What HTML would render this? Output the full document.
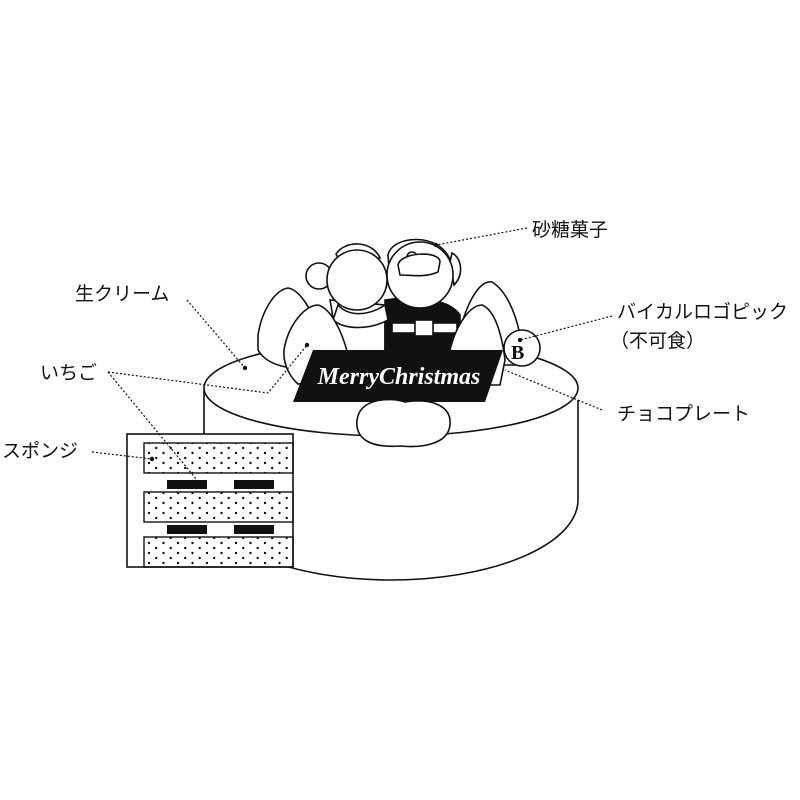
<!DOCTYPE html>
<html><head><meta charset="utf-8"><style>
html,body{margin:0;padding:0;background:#fff}
svg{display:block}
.t{font-family:"Liberation Sans","Noto Sans CJK JP",sans-serif;font-size:19px;fill:#111}
</style></head><body>
<svg width="800" height="800" viewBox="0 0 800 800" xmlns="http://www.w3.org/2000/svg">
<defs>
<pattern id="dots" width="14.5" height="10" patternUnits="userSpaceOnUse">
<circle cx="4" cy="3" r="1.2" fill="#111"/>
<circle cx="11.2" cy="8" r="1.2" fill="#111"/>
</pattern>
</defs>
<g fill="#fff" stroke="#111" stroke-width="1.6">
<!-- cake body -->
<path d="M204 390 L204 500 A187 80 0 0 0 578 500 L578 400"/>
<ellipse cx="391" cy="388" rx="187" ry="48"/>
<!-- back cream mounds -->
<path d="M258 335 C262 310 275 290 288 288 C300 290 312 310 318 330 L320 365 C300 372 268 368 258 350 Z"/>
<path d="M460 330 C468 300 480 280 492 282 C505 290 515 310 520 335 L515 365 L470 365 Z"/>
<!-- snowman -->
<path d="M330 300 C336 330 334 350 338 360 L385 360 L385 305 Z"/>
<circle cx="319" cy="276" r="13"/>
<path d="M336 254 C345 240 372 240 380 258 L340 262 Z"/>
<!-- santa -->
<path d="M452 253 C462 258 464 275 454 285 L450 262 Z"/>
<path d="M385 300 L385 360 L460 360 L460 315 C450 300 420 295 385 300 Z" fill="#111"/>
<rect x="392" y="323" width="65" height="10" fill="#fff"/>
<rect x="415" y="320" width="18" height="16" fill="#fff"/>
<path d="M388 255 C392 235 440 232 450 260 L448 282 L390 282 Z"/>
<circle cx="420" cy="275" r="33"/>
<circle cx="412" cy="257" r="5"/>
<path d="M398 265 C400 252 440 250 440 262 L438 272 C425 278 410 275 400 275 Z"/>
<circle cx="357" cy="280" r="30"/>
<path d="M338 305 C350 318 370 315 385 305 L388 320 C370 330 345 330 333 320 Z"/>
<!-- front cream mounds -->
<path d="M284 350 C288 325 305 305 318 305 C330 308 342 330 348 355 L346 380 L298 384 C288 375 283 362 284 350 Z"/>
<path d="M450 350 C456 325 470 305 482 305 C495 310 502 335 505 360 L500 385 L458 385 Z"/>
<!-- ball -->
<circle cx="522" cy="348" r="18"/>
</g>
<text x="511" y="359" font-family="Liberation Serif,serif" font-weight="bold" font-size="20" fill="#111">B</text>
<!-- plate -->
<polygon points="313,350 503,350 485,402 293,402" fill="#111"/>
<text x="399" y="384" text-anchor="middle" font-family="Liberation Serif,serif" font-style="italic" font-weight="bold" font-size="24" fill="#fff">MerryChristmas</text>
<!-- front blob -->
<path d="M357 420 C360 398 390 397 405 402 C430 398 452 405 450 425 C448 445 420 448 400 446 C372 448 355 440 357 420 Z" fill="#fff" stroke="#111" stroke-width="1.6"/>
<!-- cross section -->
<rect x="127" y="434" width="166" height="133" fill="#fff" stroke="#111" stroke-width="1.6"/>
<g stroke="#111" stroke-width="1.4">
<rect x="144" y="443" width="149" height="30" fill="url(#dots)"/>
<rect x="144" y="492" width="149" height="30" fill="url(#dots)"/>
<rect x="144" y="537" width="149" height="30" fill="url(#dots)"/>
</g>
<g fill="#111">
<rect x="167" y="480" width="40" height="9"/><rect x="234" y="480" width="40" height="9"/>
<rect x="167" y="525" width="40" height="9"/><rect x="234" y="525" width="40" height="9"/>
</g>
<!-- leaders -->
<g fill="none" stroke="#111" stroke-width="1.2" stroke-dasharray="2 2">
<path d="M527 228 L436 245"/>
<path d="M187 300 L245 368"/>
<path d="M108 372 L268 393 L307 345"/>
<path d="M108 372 L197 480"/>
<path d="M92 452 L152 459"/>
<path d="M612 316 L520 340"/>
<path d="M602 410 L505 370"/>
</g>
<g fill="#111">
<circle cx="436" cy="245" r="2.2"/><circle cx="245" cy="368" r="2.2"/><circle cx="307" cy="345" r="2.2"/>
<circle cx="152" cy="459" r="2.2"/><circle cx="520" cy="340" r="2.2"/>
</g>
<text class="t" x="532" y="236">砂糖菓子</text>
<text class="t" x="75" y="300">生クリーム</text>
<text class="t" x="40" y="379">いちご</text>
<text class="t" x="2" y="457">スポンジ</text>
<text class="t" x="617" y="318">バイカルロゴピック</text>
<text class="t" x="610" y="347">（不可食）</text>
<text class="t" x="617" y="420">チョコプレート</text>
</svg>
</body></html>
